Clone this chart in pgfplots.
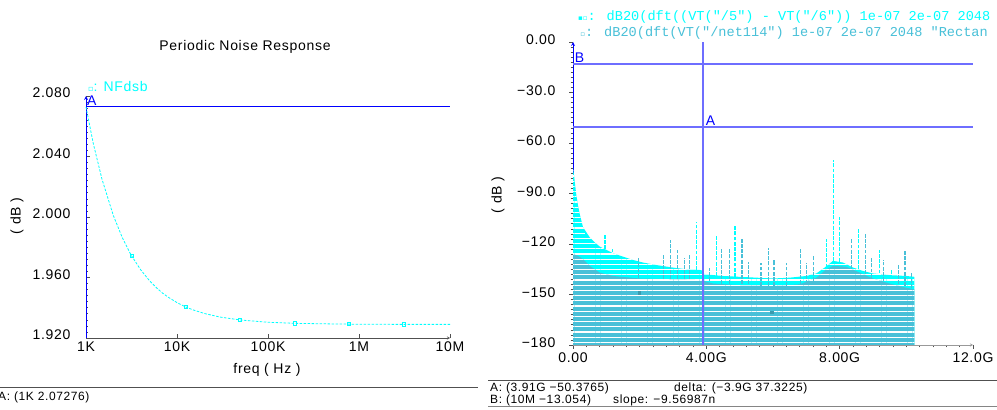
\documentclass[border=0pt]{standalone}
\usepackage{pgfplots}
\pgfplotsset{compat=1.18}
\usepackage{pgfplotstable}
\usepackage{fontspec}
\setmainfont{Liberation Sans}[LetterSpace=5]
\newfontfamily\monof{Liberation Mono}
\newfontfamily\dejavu{DejaVu Sans}
\usetikzlibrary{patterns.meta}
\definecolor{cad}{RGB}{0,255,255}
\definecolor{teal2}{RGB}{72,192,216}
\definecolor{cblue}{RGB}{0,0,255}
\definecolor{curblue}{RGB}{110,110,255}
\definecolor{axgray}{RGB}{80,80,80}
\newcommand{\cf}{\fontsize{14}{16}\selectfont}

\pgfplotstableread{
f nf
1000 2.0728
1200 2.0488
1500 2.0249
2000 2.0009
2500 1.9865
3000 1.9769
3180 1.9742
4000 1.9650
5000 1.9578
6000 1.9530
7000 1.9495
8000 1.9470
10000 1.9434
12500 1.9405
15000 1.9386
20000 1.9362
30000 1.9338
50000 1.9319
100000 1.9304
200000 1.9297
500000 1.9293
1000000 1.9291
3000000 1.9290
10000000 1.9290
}\nfdata

\pgfplotstableread{
f nf
3180 1.9742
12500 1.9405
49000 1.9319
196000 1.9297
778000 1.9292
3130000 1.9290
}\nfmarks

\pgfplotstableread{
x y
0 -180
0 -75
0.03 -79
0.10 -91
0.15 -97
0.20 -102
0.30 -110
0.40 -113
0.50 -116
0.65 -119
0.80 -121.5
1.00 -123.5
1.20 -125.5
1.50 -127.5
1.80 -129.5
2.10 -131
2.50 -132.5
3.00 -134
3.40 -135
3.85 -135.5
3.95 -138
4.50 -139
5.00 -139.5
5.50 -140
6.00 -140.5
6.50 -140
7.00 -139
7.30 -137.5
7.55 -134
7.80 -130
8.10 -131
8.40 -134
8.70 -136
9.00 -137.5
9.50 -138.5
10.00 -139
10.24 -139.5
10.24 -180
}\cyanenv

\pgfplotstableread{
x y
0 -180
0 -126
0.15 -127
0.30 -129
0.50 -133
0.80 -137
1.20 -139
2.00 -140.5
3.00 -141
3.85 -141.5
4.20 -143.5
5.00 -144.5
6.00 -145
6.80 -144
7.30 -140
7.60 -135
7.80 -133
8.20 -133.5
8.60 -137
9.00 -140.5
9.50 -143.5
10.00 -146
10.24 -147
10.24 -180
}\tealenv

% spikes: x, local floor, peak (dB)
\pgfplotstableread{
x lo hi
0.39 -116 -113.3
0.96 -123 -114.7
1.19 -125 -122.6
3.70 -135.5 -106.8
3.91 -135.5 -103.8
4.30 -139 -114.7
4.86 -139.5 -108.7
7.60 -134 -117.2
7.81 -130 -70.1
8.00 -130.5 -104
8.57 -135 -111
9.20 -137.5 -123.6
9.56 -138 -135.5
}\cyanspk

\pgfplotstableread{
x lo hi
1.96 -140 -128.5
2.71 -141 -125.6
2.93 -141 -117.6
3.14 -141 -123.4
3.34 -141 -128.5
3.49 -141 -125.6
4.09 -142 -134
4.46 -144 -122.6
4.69 -144 -122.6
5.07 -144 -116.6
5.27 -144 -130.5
5.64 -145 -131
5.86 -145 -122.6
6.03 -145 -129.5
6.41 -145 -131.4
6.82 -144 -122.6
7.01 -144 -131.4
7.22 -142 -126.6
8.36 -135 -116.6
8.78 -138 -113.5
8.96 -140 -128.5
9.31 -142 -129.5
9.76 -144 -132.5
9.96 -145 -124.3
10.16 -146 -137.4
}\tealspk

\pgfplotsset{cadaxis/.style={
  scale only axis,
  axis line style={-},
  ticklabel style={font=\cf, black},
  major tick length=4pt, minor tick length=2.5pt,
  tick style={axgray, line width=0.6pt},
}}

\begin{document}
\begin{tikzpicture}
\clip (0pt,0pt) rectangle (997pt,410pt);
\fill[white] (0pt,0pt) rectangle (997pt,410pt);

% ---------- left panel ----------
\begin{axis}[cadaxis, at={(86pt,72pt)}, anchor=south west,
  width=364pt, height=242pt,
  xmode=log, log basis x=10, xmin=1000, xmax=10000000, ymin=1.92, ymax=2.08,
  axis x line=bottom, axis y line=left,
  x axis line style={axgray}, y axis line style={cblue, line width=0.8pt},
  tick align=inside,
  xtick={1000,10000,100000,1000000,10000000},
  xticklabels={1K,10K,100K,1M,10M},
  ytick={1.92,1.96,2.00,2.04,2.08},
  yticklabels={1.920,1.960,2.000,2.040,2.080},
  minor y tick num=9,
  yticklabel style={xshift=-12pt, yshift=3pt},
  clip=false,
]
\addplot[cad, line width=0.8pt, dash pattern=on 2.5pt off 1.5pt] table[x=f,y=nf] {\nfdata};
\addplot[cad, only marks, mark=square, mark size=1.6pt, mark options={solid, line width=0.7pt}] table[x=f,y=nf] {\nfmarks};
\addplot[cblue, line width=1pt] coordinates {(1000,2.07276) (10000000,2.07276)};
\node[cblue, anchor=south west, inner sep=1pt, font=\cf] at (axis cs:1000,2.0728) {A};
\end{axis}

% ---------- right panel ----------
\begin{axis}[cadaxis, at={(573pt,65pt)}, anchor=south west,
  width=400pt, height=303pt,
  xmin=0, xmax=12, ymin=-180, ymax=0,
  axis x line=bottom, axis y line=left,
  x axis line style={black!40}, y axis line style={cblue, line width=0.8pt},
  tick align=outside,
  xtick={0,4,8,12}, xticklabels={0.00,4.00G,8.00G,12.0G},
  minor x tick num=9,
  ytick={-180,-150,-120,-90,-60,-30,0},
  yticklabels={−180,−150,−120,−90.0,−60.0,−30.0,0.00},
  minor y tick num=9,
  yticklabel style={xshift=-10pt, yshift=2pt},
  clip=false,
]
\addplot[draw=none, fill=cad, postaction={pattern={Lines[angle=0,distance=5.2pt,line width=1.3pt]}, pattern color=white}] table {\cyanenv};
\addplot[draw=none, fill=teal2, postaction={pattern={Lines[angle=0,distance=5.2pt,line width=1.3pt]}, pattern color=white}] table {\tealenv};
\addplot[draw=none, mark=none, error bars/.cd, y dir=plus, y explicit,
  error bar style={teal2, line width=1.2pt, dash pattern=on 3.9pt off 1.3pt}, error mark=none]
  table[x=x, y=lo, y error expr=\thisrow{hi}-\thisrow{lo}] {\tealspk};
\addplot[draw=none, mark=none, error bars/.cd, y dir=plus, y explicit,
  error bar style={cad, line width=1.2pt, dash pattern=on 3.9pt off 1.3pt}, error mark=none]
  table[x=x, y=lo, y error expr=\thisrow{hi}-\thisrow{lo}] {\cyanspk};
\addplot[teal2!80!black, only marks, mark=square*, mark size=1.3pt] coordinates {(1.98,-149) (5.96,-160.4)};
\addplot[curblue, line width=1.5pt] coordinates {(0,-13.054) (12,-13.054)};
\addplot[curblue, line width=1.5pt] coordinates {(0,-50.3765) (12,-50.3765)};
\addplot[draw=none, fill=curblue] coordinates {(3.88,0) (3.94,0) (3.94,-180) (3.88,-180)};
\node[cblue, anchor=south west, inner sep=1pt, font=\cf] at (axis cs:0.02,-13.054) {B};
\node[cblue, anchor=south west, inner sep=1pt, font=\cf] at (axis cs:3.95,-50.3765) {A};
\end{axis}

% ---------- texts ----------
\node[font=\cf, black] at (245pt,363pt) {Periodic Noise Response};
\node[font=\cf, cad, anchor=west, inner sep=0pt] at (88pt,324pt) {{\dejavu\fontsize{8}{8}\selectfont ▫}: NFdsb};
\node[font=\cf, black, rotate=90] at (17pt,194pt) {( dB )};
\node[font=\cf, black] at (267pt,40pt) {freq ( Hz )};
\node[font=\cf, black, rotate=90] at (498pt,215pt) {( dB )};

\node[font={\monof\fontsize{13.6}{16}\selectfont}, cad, anchor=west, inner sep=0pt] at (578pt,393pt) {{\dejavu\fontsize{7}{7}\selectfont ▪▫}: dB20(dft((VT("/5") - VT("/6")) 1e-07 2e-07 2048};
\node[font={\monof\fontsize{13.6}{16}\selectfont}, teal2, anchor=west, inner sep=0pt] at (578pt,377.5pt) {{\dejavu\fontsize{7}{7}\selectfont \ ▫}: dB20(dft(VT("/net114") 1e-07 2e-07 2048 "Rectan};

\draw[axgray, line width=1pt] (0pt,22pt) -- (478pt,22pt);
\node[font=\fontsize{12}{14}\selectfont, black, anchor=west, inner sep=0pt] at (-2pt,13pt) {A: (1K 2.07276)};

\draw[axgray, line width=1pt] (488pt,29pt) -- (997pt,29pt);
\draw[axgray!70, line width=1pt] (488pt,3.5pt) -- (997pt,3.5pt);
\node[font=\fontsize{12}{14}\selectfont, black, anchor=west, inner sep=0pt] at (490pt,22pt) {A: (3.91G −50.3765)};
\node[font=\fontsize{12}{14}\selectfont, black, anchor=west, inner sep=0pt] at (674pt,22pt) {delta: (−3.9G 37.3225)};
\node[font=\fontsize{12}{14}\selectfont, black, anchor=west, inner sep=0pt] at (490pt,10pt) {B: (10M −13.054)};
\node[font=\fontsize{12}{14}\selectfont, black, anchor=west, inner sep=0pt] at (613pt,10pt) {slope: −9.56987n};
\end{tikzpicture}
\end{document}
